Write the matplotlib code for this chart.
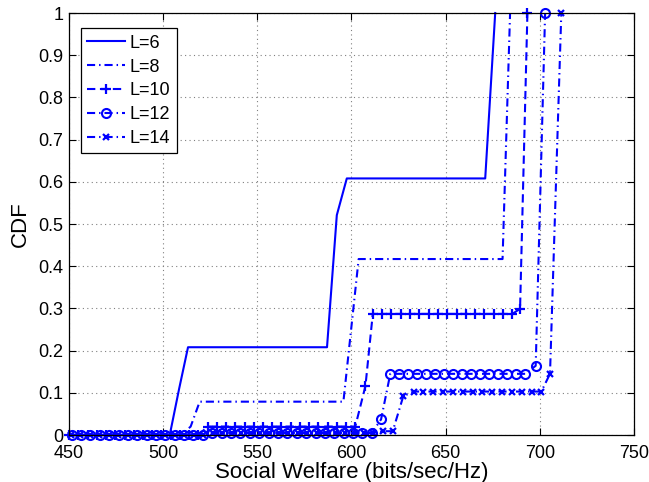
import matplotlib
matplotlib.use("Agg")
import matplotlib.pyplot as plt

plt.rcParams['font.family'] = ['Liberation Sans', 'DejaVu Sans']

# ---- data ----
x_L6 = [450.0, 503.5, 508.5, 513.2, 587.0, 592.2, 597.5, 671.0, 676.3]
y_L6 = [0.0, 0.0, 0.11, 0.208, 0.208, 0.521, 0.608, 0.608, 1.0]

x_L8 = [450.0, 509.6, 514.6, 519.4, 595.7, 599.8, 603.8, 680.2, 684.2]
y_L8 = [0.0, 0.0, 0.02, 0.079, 0.079, 0.25, 0.417, 0.417, 1.0]

x_L10 = [450.1, 455.0, 459.9, 464.8, 469.7, 474.6, 479.5, 484.4, 489.3, 494.2,
         499.1, 504.0, 508.9, 513.8, 518.7, 523.6, 528.5, 533.4, 538.3, 543.2,
         548.1, 553.0, 557.9, 562.8, 567.7, 572.6, 577.5, 582.4, 587.3, 592.2,
         597.1, 602.0, 607.4, 611.3, 616.2, 621.2, 626.1, 631.1, 636.0, 640.9,
         645.9, 650.8, 655.8, 660.7, 665.6, 670.6, 675.5, 680.5, 685.4, 689.5,
         693.4]
y_L10 = [0.0, 0.0, 0.0, 0.0, 0.0, 0.0, 0.0, 0.0, 0.0, 0.0,
         0.0, 0.0, 0.0, 0.0, 0.0, 0.02, 0.02, 0.02, 0.02, 0.02,
         0.02, 0.02, 0.02, 0.02, 0.02, 0.02, 0.02, 0.02, 0.02, 0.02,
         0.02, 0.02, 0.116, 0.287, 0.287, 0.287, 0.287, 0.287, 0.287, 0.287,
         0.287, 0.287, 0.287, 0.287, 0.287, 0.287, 0.287, 0.287, 0.287, 0.299,
         1.0]

x_L12 = [451.4, 456.4, 461.4, 466.3, 471.3, 476.3, 481.3, 486.3, 491.2, 496.2,
         501.2, 506.2, 511.2, 516.1, 521.1, 526.1, 531.1, 536.0, 541.0, 546.0,
         551.0, 556.0, 560.9, 565.9, 570.9, 575.9, 580.9, 585.8, 590.8, 595.8,
         600.8, 605.8, 610.8, 615.7, 620.6, 625.4, 630.1, 634.9, 639.7, 644.5,
         649.2, 654.0, 658.8, 663.6, 668.3, 673.1, 677.9, 682.7, 687.4, 692.2,
         697.8, 702.8]
y_L12 = [0.0, 0.0, 0.0, 0.0, 0.0, 0.0, 0.0, 0.0, 0.0, 0.0,
         0.0, 0.0, 0.0, 0.0, 0.0, 0.005, 0.005, 0.005, 0.005, 0.005,
         0.005, 0.005, 0.005, 0.005, 0.005, 0.005, 0.005, 0.005, 0.005, 0.005,
         0.005, 0.005, 0.005, 0.037, 0.145, 0.145, 0.145, 0.145, 0.145, 0.145,
         0.145, 0.145, 0.145, 0.145, 0.145, 0.145, 0.145, 0.145, 0.145, 0.145,
         0.164, 1.0]

x_L14 = [451.0, 456.0, 461.0, 466.1, 471.1, 476.1, 481.1, 486.1, 491.2, 496.2,
         501.2, 506.2, 511.2, 516.3, 521.3, 526.3, 531.3, 536.3, 541.4, 546.4,
         551.4, 556.4, 561.4, 566.5, 571.5, 576.5, 581.5, 586.5, 591.6, 596.6,
         601.6, 606.6, 611.6, 616.6, 621.9, 627.5, 633.0, 638.2, 643.4, 648.6,
         653.9, 659.1, 664.3, 669.5, 674.7, 679.9, 685.2, 690.4, 695.6, 700.8,
         705.4, 711.4]
y_L14 = [0.0, 0.0, 0.0, 0.0, 0.0, 0.0, 0.0, 0.0, 0.0, 0.0,
         0.0, 0.0, 0.0, 0.0, 0.0, 0.005, 0.005, 0.005, 0.005, 0.005,
         0.005, 0.005, 0.005, 0.005, 0.005, 0.005, 0.005, 0.005, 0.005, 0.005,
         0.005, 0.005, 0.005, 0.009, 0.009, 0.092, 0.103, 0.103, 0.103, 0.103,
         0.103, 0.103, 0.103, 0.103, 0.103, 0.103, 0.103, 0.103, 0.103, 0.103,
         0.145, 1.0]

labels = ['L=6', 'L=8', 'L=10', 'L=12', 'L=14']
x_ticks = [450, 500, 550, 600, 650, 700, 750]
y_ticks = [0, 0.1, 0.2, 0.3, 0.4, 0.5, 0.6, 0.7, 0.8, 0.9, 1]
y_tick_labels = ['0', '0.1', '0.2', '0.3', '0.4', '0.5', '0.6', '0.7', '0.8', '0.9', '1']

# ---- figure ----
fig = plt.figure(figsize=(6.49, 4.82), dpi=100)
ax = fig.add_axes([0.1063, 0.0975, 0.8706, 0.8755])

blue = (0, 0, 1)
lw = 1.5
dashdot = (0, (3.9, 1.9, 0.7, 1.9))
dashed = (0, (4.0, 2.2))

ax.plot(x_L6, y_L6, color=blue, lw=lw, linestyle='-', label=labels[0], clip_on=False)
ax.plot(x_L8, y_L8, color=blue, lw=lw, linestyle=dashdot, label=labels[1], clip_on=False)
ax.plot(x_L10, y_L10, color=blue, lw=lw, linestyle=dashed, marker='+', ms=7.5,
        mew=1.6, label=labels[2], clip_on=False)
ax.plot(x_L12, y_L12, color=blue, lw=lw, linestyle=dashdot, marker='o', ms=6.5,
        mew=1.5, mfc='none', label=labels[3], clip_on=False)
ax.plot(x_L14, y_L14, color=blue, lw=lw, linestyle=dashdot, marker='x', ms=4.8,
        mew=1.6, label=labels[4], clip_on=False)

ax.set_xlim(450, 750)
ax.set_ylim(0, 1)
ax.set_xticks(x_ticks)
ax.set_xticklabels([str(t) for t in x_ticks])
ax.set_yticks(y_ticks)
ax.set_yticklabels(y_tick_labels)

ax.tick_params(direction='in', length=5, width=0.8, top=True, right=True,
               labelsize=13, colors='black')
ax.tick_params(axis='x', pad=7)
ax.tick_params(axis='y', pad=4)
for s in ax.spines.values():
    s.set_linewidth(0.9)
    s.set_color('black')

ax.grid(True, color='0.5', linestyle=(0, (1, 3)), linewidth=0.8)
ax.set_axisbelow(True)

ax.set_xlabel('Social Welfare (bits/sec/Hz)', fontsize=16, labelpad=0)
ax.set_ylabel('CDF', fontsize=16, labelpad=5)

leg = ax.legend(loc='upper left', bbox_to_anchor=(0.0212, 0.9637), borderaxespad=0,
                fontsize=13, numpoints=1, handlelength=2.1, handletextpad=0.25,
                labelspacing=0.38, borderpad=0.35, fancybox=False, framealpha=1,
                edgecolor='black')
leg.get_frame().set_linewidth(0.9)

fig.savefig('out.png', dpi=100)
